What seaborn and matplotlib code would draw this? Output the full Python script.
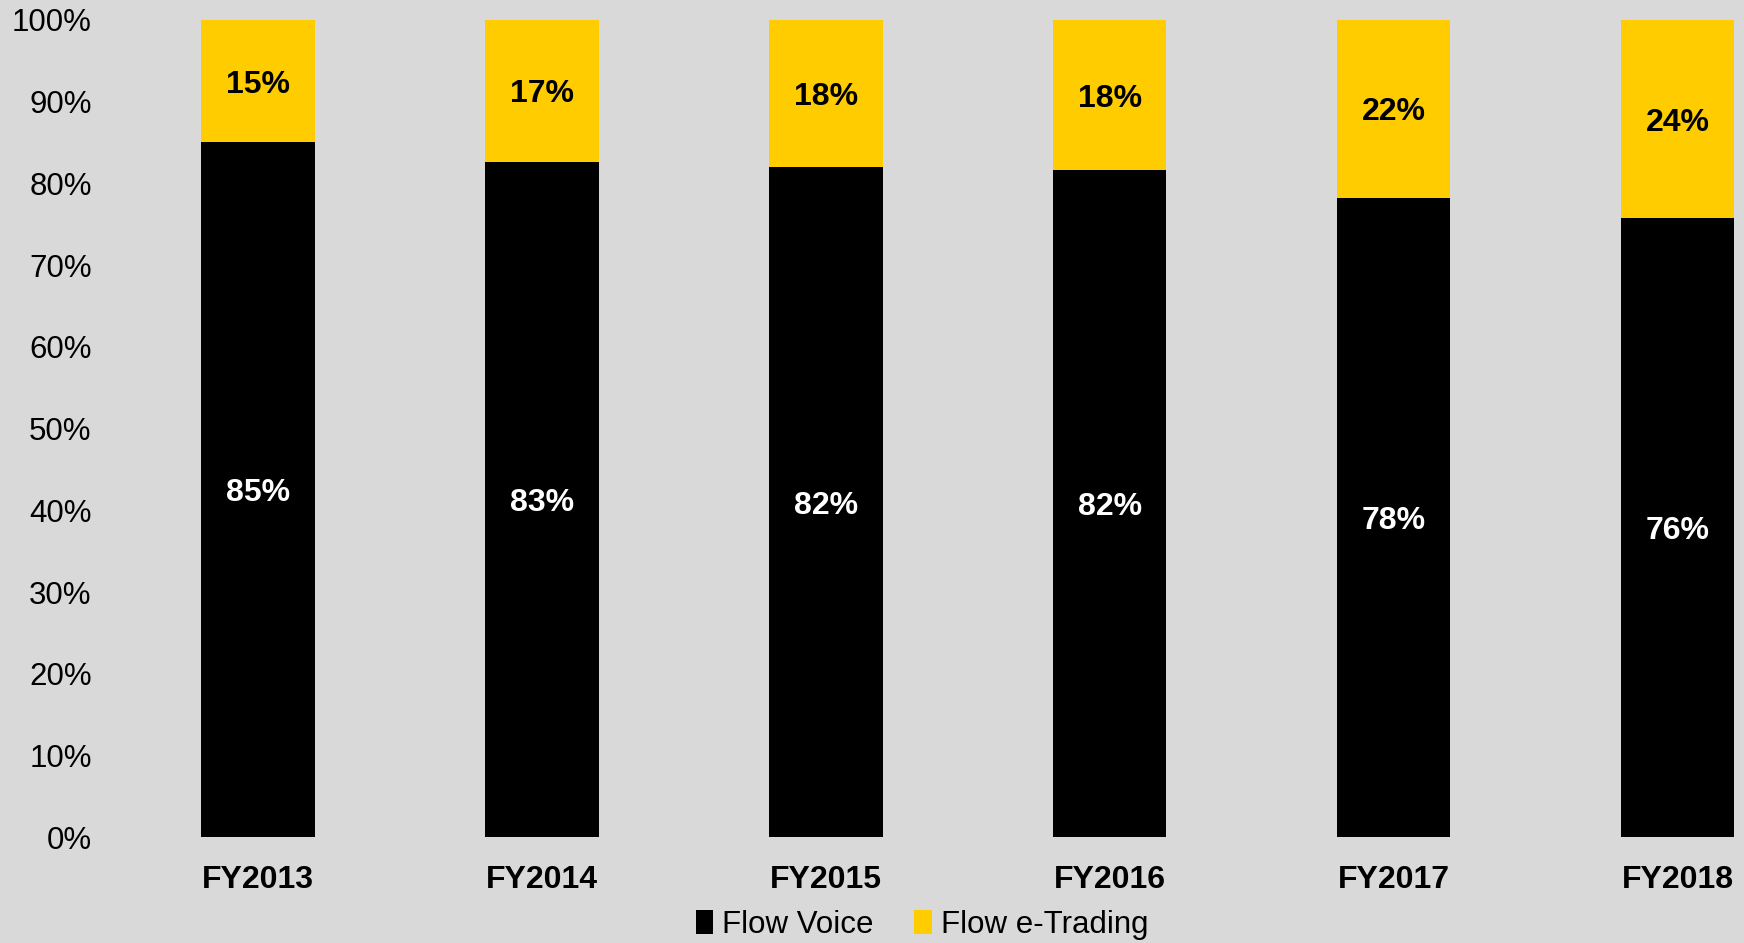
import matplotlib.pyplot as plt
import seaborn as sns
import pandas as pd
from matplotlib.patches import Patch

# data
years = ['FY2013', 'FY2014', 'FY2015', 'FY2016', 'FY2017', 'FY2018']
flow_voice = [85.0, 82.6, 82.0, 81.6, 78.2, 75.7]
flow_etrading = [15.0, 17.4, 18.0, 18.4, 21.8, 24.3]

bg = '#D9D9D9'
yellow = '#FFCC00'

sns.set_theme(style='white')
plt.rcParams['font.family'] = ['Liberation Sans', 'DejaVu Sans']
plt.rcParams['text.color'] = 'black'
plt.rcParams['xtick.color'] = 'black'
plt.rcParams['ytick.color'] = 'black'

df = pd.DataFrame({'year': years, 'voice': flow_voice, 'etrading': flow_etrading})
df['total'] = df['voice'] + df['etrading']

fig = plt.figure(figsize=(17.44, 9.43), dpi=100, facecolor=bg)
ax = fig.add_axes([100 / 1744, 0.112, 1 - 100 / 1744, 0.867])
ax.set_facecolor(bg)

# stacked bars: total (yellow) behind, voice (black) in front
sns.barplot(data=df, x='year', y='total', color=yellow, width=0.4, ax=ax,
            saturation=1, edgecolor='none', linewidth=0)
sns.barplot(data=df, x='year', y='voice', color='black', width=0.4, ax=ax,
            saturation=1, edgecolor='none', linewidth=0)

for i, (v, e) in enumerate(zip(flow_voice, flow_etrading)):
    ax.text(i, v / 2, f"{round(v)}%", ha='center', va='center_baseline', color='white',
            fontsize=23, fontweight='bold')
    ax.text(i, v + e / 2, f"{round(e)}%", ha='center', va='center_baseline', color='black',
            fontsize=23, fontweight='bold')

ax.set_xlim(-0.556, 5.234)
ax.set_ylim(0, 100)
ax.set_yticks(range(0, 101, 10))
ax.set_yticklabels([f"{t}%" for t in range(0, 101, 10)], fontsize=22.5)
ax.set_xticks(range(len(years)))
ax.set_xticklabels(years, fontsize=23, fontweight='bold')
ax.tick_params(axis='y', length=0, pad=6)
ax.tick_params(axis='x', length=0, pad=20)
ax.set_xlabel('')
ax.set_ylabel('')
sns.despine(ax=ax, left=True, bottom=True)

handles = [Patch(facecolor='black', edgecolor='none', label='Flow Voice'),
           Patch(facecolor=yellow, edgecolor='none', label='Flow e-Trading')]
ax.legend(handles=handles, loc='center', bbox_to_anchor=(0.5, -0.107), ncol=2,
          frameon=False, fontsize=22.5, handlelength=0.55, handleheight=0.8,
          handletextpad=0.3, columnspacing=1.3)

fig.savefig('out.png', dpi=100, facecolor=bg)
